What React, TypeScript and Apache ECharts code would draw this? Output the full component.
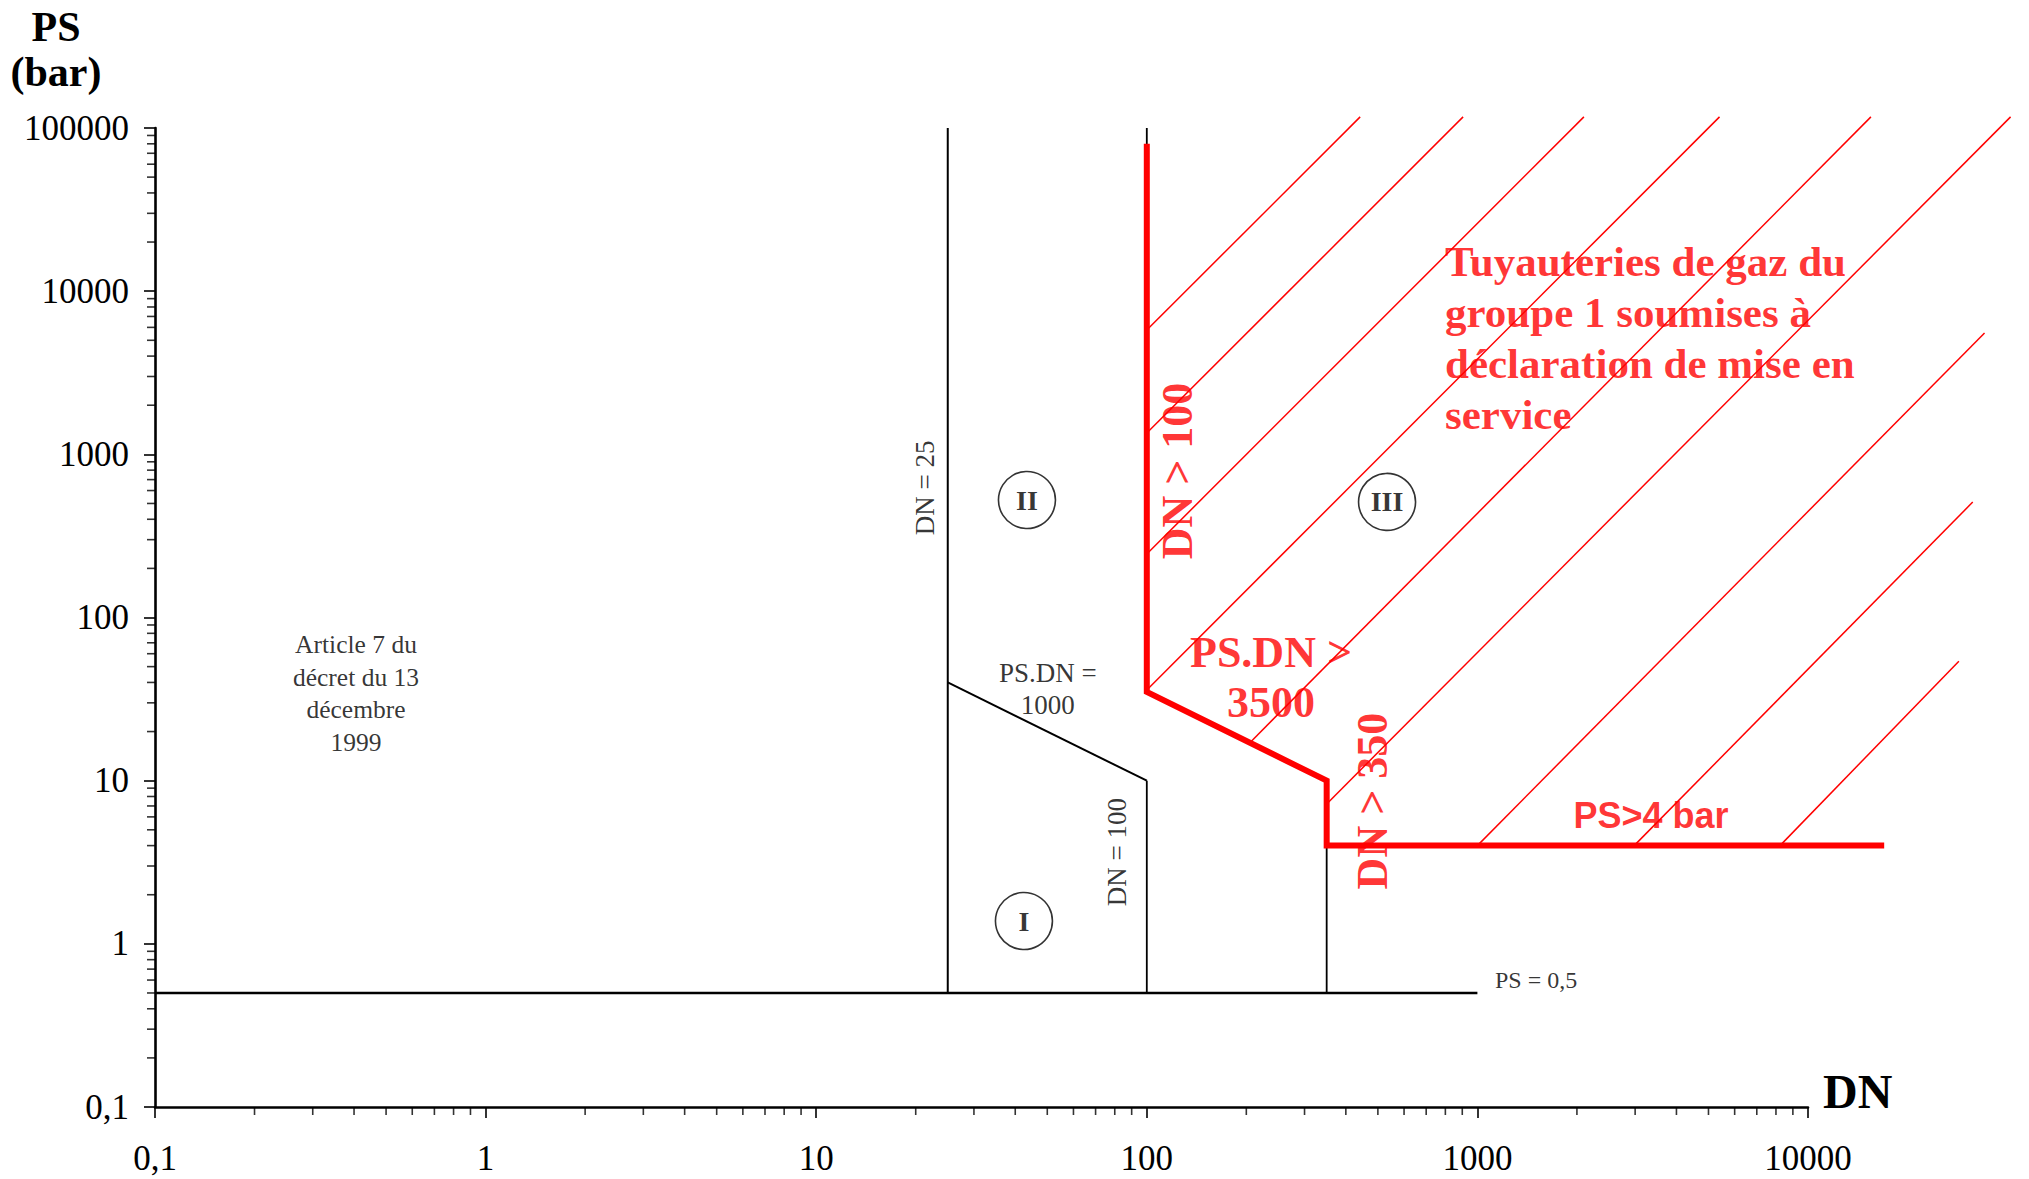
import React, { useEffect, useRef } from "react";
import * as echarts from "echarts";

// ---- Axes ----
const xDecades = [0.1, 1, 10, 100, 1000];
const yDecades = [0.1, 1, 10, 100, 1000, 10000];
const minorMultipliers = [2, 3, 4, 5, 6, 7, 8, 9];

// ---- Black regulatory boundaries, points as [DN, PS] ----
const psHalfLine = [[0.1, 0.5], [1000, 0.5]];
const dn25Line = [[25, 0.5], [25, 100000]];
const psdn1000Line = [[25, 40], [100, 10]];
const dn100LowLine = [[100, 0.5], [100, 10]];
const dn100HighLine = [[100, 35], [100, 100000]];
const dn350Line = [[350, 0.5], [350, 10]];

// ---- Red boundary (zone III, gas group 1) ----
const redBoundary = [[100, 80000], [100, 35], [350, 10], [350, 4], [17000, 4]];

// ---- Red hatch lines [start, end] ----
const hatchLines = [
  [[100, 5780], [442, 117000]],
  [[100, 1350], [905, 117000]],
  [[100, 245], [2100, 117000]],
  [[100, 36], [5400, 117000]],
  [[205, 17.1], [15500, 117000]],
  [[350, 7.2], [41000, 117000]],
  [[1000, 4], [34200, 5540]],
  [[2980, 4], [31500, 510]],
  [[8230, 4], [28600, 54]],
];

// ---- Zone circles ----
const zoneNames = ["I", "II", "III"];
const zonePositions = [[42.5, 1.38], [43.4, 525], [533, 511]];

// ---- Annotations ----
const blackNotes = [
  { text: "Article 7 du\ndécret du 13\ndécembre\n1999", at: [0.4055, 34.2], rotate: 0, size: 25.5 },
  { text: "DN = 25", at: [21.3, 622], rotate: 90, size: 27 },
  { text: "PS.DN =\n1000", at: [50.2, 36.5], rotate: 0, size: 27 },
  { text: "DN = 100", at: [81.3, 3.65], rotate: 90, size: 27 },
];
const psHalfNote = { text: "PS = 0,5", at: [1130, 0.6] };
const redNotes = [
  { text: "DN > 100", at: [124, 791], rotate: 90 },
  { text: "PS.DN >\n3500", at: [237.5, 42.6], rotate: 0 },
  { text: "DN > 350", at: [483, 7.5], rotate: 90 },
];
const ps4Note = { text: "PS>4 bar", at: [3350, 6.16] };
const zoneIIINote = {
  text: "Tuyauteries de gaz du\ngroupe 1 soumises à\ndéclaration de mise en\nservice",
  at: [798, 5200],
};

const SERIF = "'Liberation Serif', 'Times New Roman', serif";
const SANS = "'Liberation Sans', Arial, sans-serif";
const RED = "#ff0000";

// layout of the main plotting frame (pixels)
const GRID_LEFT = 155;
const GRID_TOP = 128;
const X_DECADE = 330.6;
const Y_DECADE = 163.17;
const X_DECADES_SHOWN = 5; // 0.1 .. 10000
const Y_DECADES_SHOWN = 6; // 0.1 .. 100000
const EXT_X_DECADES = 6; // 0.1 .. 100000 (hidden, for overflow of the hatched zone)
const EXT_Y_DECADES = 6.5; // 0.1 .. 10^5.5

function fmt(v: number) {
  return String(Number(Number(v).toPrecision(6))).replace(".", ",");
}

function lineSeries(name: string, data: number[][], color: string, width: number, z: number, axis = 0) {
  return {
    type: "line",
    name,
    data,
    symbol: "none",
    clip: false,
    silent: true,
    z,
    xAxisIndex: axis,
    yAxisIndex: axis,
    lineStyle: { color, width, cap: "butt", join: "miter" },
  };
}

function buildOption() {
  const xMinor: number[][] = [];
  xDecades.forEach((d) => minorMultipliers.forEach((m) => xMinor.push([m * d, 0.1])));
  const yMinor: number[][] = [];
  yDecades.forEach((d) => minorMultipliers.forEach((m) => yMinor.push([0.1, m * d])));

  const series: any[] = [
    lineSeries("PS=0.5", psHalfLine, "#000", 2.6, 2),
    lineSeries("DN=25", dn25Line, "#000", 2, 2),
    lineSeries("PS.DN=1000", psdn1000Line, "#000", 2, 2),
    lineSeries("DN=100 low", dn100LowLine, "#000", 1.8, 2),
    lineSeries("DN=100 high", dn100HighLine, "#000", 1.8, 2),
    lineSeries("DN=350", dn350Line, "#000", 1.8, 2),
    ...hatchLines.map((l, i) => lineSeries("hatch" + i, l, RED, 1.5, 3, 1)),
    lineSeries("red boundary", redBoundary, RED, 6, 5, 1),
    {
      type: "scatter",
      name: "x minor ticks",
      data: xMinor,
      symbol: "rect",
      symbolSize: [1.6, 8],
      symbolOffset: [0, 4],
      clip: false,
      silent: true,
      itemStyle: { color: "#000" },
      z: 6,
    },
    {
      type: "scatter",
      name: "y minor ticks",
      data: yMinor,
      symbol: "rect",
      symbolSize: [8, 1.6],
      symbolOffset: [-4, 0],
      clip: false,
      silent: true,
      itemStyle: { color: "#000" },
      z: 6,
    },
    {
      type: "scatter",
      name: "zones",
      data: zonePositions.map((p, i) => ({ name: zoneNames[i], value: p })),
      symbol: "circle",
      symbolSize: 57,
      clip: false,
      silent: true,
      z: 7,
      itemStyle: { color: "#fff", borderColor: "#000", borderWidth: 1.6 },
      label: {
        show: true,
        position: "inside",
        formatter: "{b}",
        fontFamily: SERIF,
        fontWeight: "bold",
        fontSize: 28,
        color: "#000",
      },
    },
    {
      type: "scatter",
      name: "notes",
      symbolSize: 0,
      clip: false,
      silent: true,
      z: 8,
      data: [
        ...blackNotes.map((n) => ({
          value: n.at,
          label: {
            show: true,
            position: "inside",
            formatter: n.text,
            rotate: n.rotate,
            fontFamily: SERIF,
            fontSize: n.size,
            lineHeight: 32.5,
            color: "#000",
            align: "center",
            verticalAlign: "middle",
          },
        })),
        {
          value: psHalfNote.at,
          label: {
            show: true,
            position: "inside",
            formatter: psHalfNote.text,
            fontFamily: SERIF,
            fontSize: 24,
            color: "#000",
            align: "left",
            verticalAlign: "middle",
          },
        },
        ...redNotes.map((n) => ({
          value: n.at,
          label: {
            show: true,
            position: "inside",
            formatter: n.text,
            rotate: n.rotate,
            fontFamily: SERIF,
            fontWeight: "bold",
            fontSize: 44,
            lineHeight: 50,
            color: RED,
            align: "center",
            verticalAlign: "middle",
          },
        })),
        {
          value: ps4Note.at,
          label: {
            show: true,
            position: "inside",
            formatter: ps4Note.text,
            fontFamily: SANS,
            fontWeight: "bold",
            fontSize: 36,
            color: RED,
            align: "center",
            verticalAlign: "middle",
          },
        },
        {
          value: zoneIIINote.at,
          label: {
            show: true,
            position: "inside",
            formatter: zoneIIINote.text,
            fontFamily: SERIF,
            fontWeight: "bold",
            fontSize: 43,
            lineHeight: 51,
            color: RED,
            align: "left",
            verticalAlign: "middle",
          },
        },
      ],
    },
  ];

  const axisCommon = {
    type: "log",
    logBase: 10,
    axisLine: { show: true, lineStyle: { color: "#000", width: 2.6 } },
    axisTick: { show: true, length: 11, lineStyle: { color: "#000", width: 1.6 } },
    splitLine: { show: false },
  };

  const extHeight = Y_DECADE * EXT_Y_DECADES;
  const extTop = GRID_TOP + Y_DECADE * Y_DECADES_SHOWN - extHeight;

  return {
    animation: false,
    backgroundColor: "#fff",
    grid: [
      {
        left: GRID_LEFT,
        top: GRID_TOP,
        width: X_DECADE * X_DECADES_SHOWN,
        height: Y_DECADE * Y_DECADES_SHOWN,
        containLabel: false,
      },
      {
        left: GRID_LEFT,
        top: extTop,
        width: X_DECADE * EXT_X_DECADES,
        height: extHeight,
        containLabel: false,
      },
    ],
    xAxis: [
      {
        ...axisCommon,
        gridIndex: 0,
        min: 0.1,
        max: 10000,
        splitNumber: 5,
        axisLabel: { margin: 34, fontFamily: SERIF, fontSize: 35, color: "#000", formatter: fmt },
      },
      { type: "log", logBase: 10, gridIndex: 1, min: 0.1, max: 100000, show: false },
    ],
    yAxis: [
      {
        ...axisCommon,
        gridIndex: 0,
        min: 0.1,
        max: 100000,
        splitNumber: 6,
        axisLabel: { margin: 26, fontFamily: SERIF, fontSize: 35, color: "#000", formatter: fmt },
      },
      {
        type: "log",
        logBase: 10,
        gridIndex: 1,
        min: 0.1,
        max: Math.pow(10, EXT_Y_DECADES - 1),
        show: false,
      },
    ],
    graphic: [
      {
        type: "text",
        x: 56,
        y: 27,
        style: {
          text: "PS",
          font: `bold 42px ${SERIF}`,
          fill: "#000",
          textAlign: "center",
          textVerticalAlign: "middle",
        },
      },
      {
        type: "text",
        x: 56,
        y: 72,
        style: {
          text: "(bar)",
          font: `bold 42px ${SERIF}`,
          fill: "#000",
          textAlign: "center",
          textVerticalAlign: "middle",
        },
      },
      {
        type: "text",
        x: 1823,
        y: 1091,
        style: {
          text: "DN",
          font: `bold 48px ${SERIF}`,
          fill: "#000",
          textAlign: "left",
          textVerticalAlign: "middle",
        },
      },
    ],
    series,
  };
}

export default function App() {
  const ref = useRef<HTMLDivElement>(null);
  useEffect(() => {
    const chart = echarts.init(ref.current!, null, { renderer: "svg" });
    chart.setOption(buildOption() as any);
    return () => chart.dispose();
  }, []);
  return (
    <div
      style={{
        position: "absolute",
        left: 0,
        top: 0,
        width: 2029,
        height: 1179,
        overflow: "hidden",
        background: "#fff",
      }}
    >
      <div ref={ref} style={{ position: "absolute", left: 0, top: 0, width: 2300, height: 1179 }} />
    </div>
  );
}
